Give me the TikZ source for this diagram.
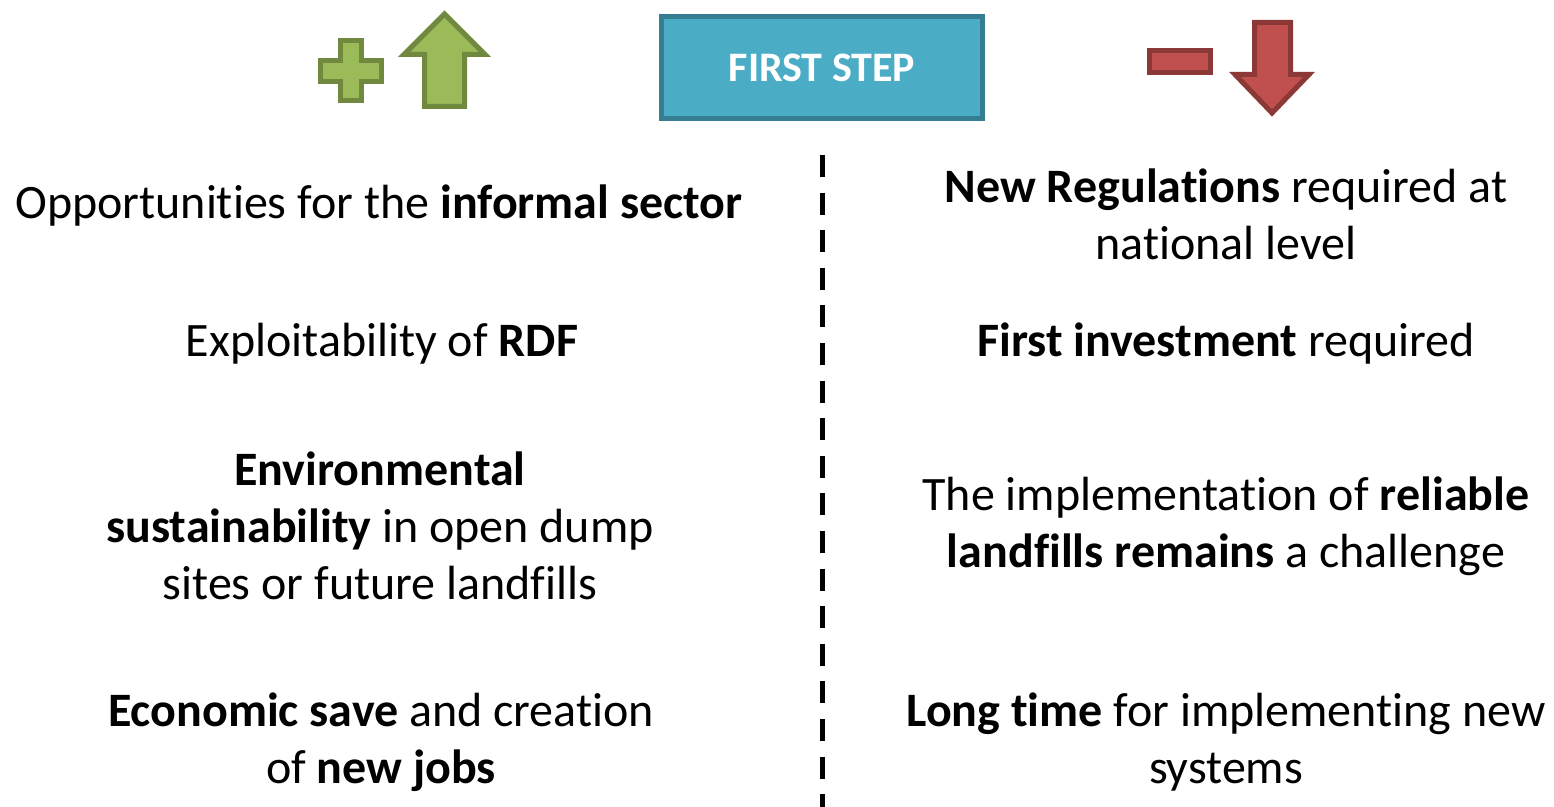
\documentclass[tikz,border=0pt]{standalone}
\usepackage{fontspec}
\setmainfont[Ligatures=NoCommon]{Carlito}

\definecolor{stepfill}{HTML}{4BACC6}
\definecolor{stepline}{HTML}{357D91}
\definecolor{profill}{HTML}{9BBB59}
\definecolor{proline}{HTML}{71893F}
\definecolor{confill}{HTML}{C0504D}
\definecolor{conline}{HTML}{8C3836}

\tikzset{
  item/.style={align=center, inner sep=0pt, font=\fontsize{24}{28.6}\selectfont},
  stepbox/.style={draw=stepline, fill=stepfill, line width=2.5pt,
    minimum width=160.5pt, minimum height=51pt, inner sep=0pt,
    text=white, font=\bfseries\fontsize{21}{25}\selectfont},
  pro/.style={draw=proline, fill=profill, line width=2.5pt},
  con/.style={draw=conline, fill=confill, line width=2.5pt},
  divider/.style={line width=2.5pt, dash pattern=on 11pt off 7.8pt}
}

\begin{document}
\begin{tikzpicture}[x=0.5pt, y=-0.5pt]
  \useasboundingbox (0,0) rectangle (1554,807);

  % header
  \node[stepbox] (first) at (822,67.5) {FIRST STEP};

  % plus and up arrow
  \draw[pro] (340.5,40.5) -- (361.5,40.5) -- (361.5,61) -- (381.5,61) -- (381.5,82)
    -- (361.5,82) -- (361.5,100.5) -- (340.5,100.5) -- (340.5,82) -- (320.5,82)
    -- (320.5,61) -- (340.5,61) -- cycle;
  \draw[pro] (444.5,14) -- (485,54.5) -- (464.5,54.5) -- (464.5,106.5)
    -- (424.5,106.5) -- (424.5,54.5) -- (404,54.5) -- cycle;

  % minus and down arrow
  \draw[con] (1149.5,50.5) rectangle (1210.5,72.5);
  \draw[con] (1254.5,22.5) -- (1290.5,22.5) -- (1290.5,74.5) -- (1309,74.5)
    -- (1272,113) -- (1235,74.5) -- (1254.5,74.5) -- cycle;

  % divider
  \coordinate (top) at (822,155);
  \coordinate (bottom) at (822,807);
  \draw[divider] (top) -- (bottom);

  % pros
  \node[item] (opp) at (379,206) {Opportunities for the \textbf{informal sector}};
  \node[item] (rdf) at (382,344) {Exploitability of \textbf{RDF}};
  \node[item] (env) at (380,526) {\textbf{Environmental}\\\textbf{sustainability} in open dump\\sites or future landfills};
  \node[item] (eco) at (381,742) {\textbf{Economic save} and creation\\of \textbf{new jobs}};

  % cons
  \node[item] (reg) at (1226,214) {\textbf{New Regulations} required at\\national level};
  \node[item] (inv) at (1226,344) {\textbf{First investment} required};
  \node[item] (land) at (1226,526) {The implementation of \textbf{reliable}\\\textbf{landfills remains} a challenge};
  \node[item] (time) at (1226,742) {\textbf{Long time} for implementing new\\systems};
\end{tikzpicture}
\end{document}
